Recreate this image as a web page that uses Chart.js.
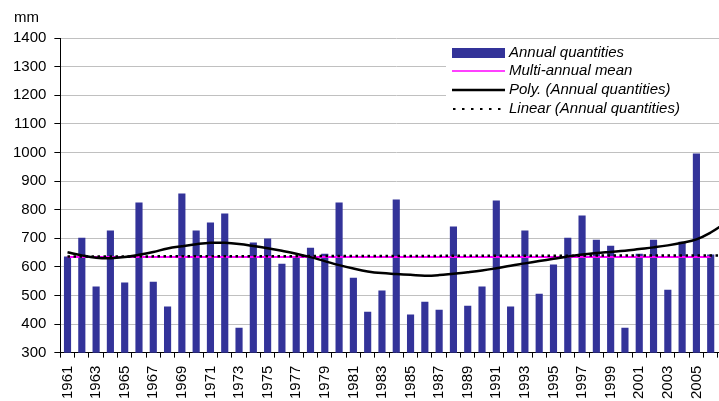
<!DOCTYPE html>
<html>
<head>
<meta charset="utf-8">
<script src="https://cdn.jsdelivr.net/npm/chart.js@4.4.1/dist/chart.umd.min.js"></script>
<style>
  html, body { margin: 0; padding: 0; background: #fff; overflow: hidden; }
  #wrap { position: relative; width: 751px; height: 407px; }
</style>
</head>
<body>
<div id="wrap"><canvas id="chart"></canvas></div>
<script>
// categories (2007 is the cut-off last slot of the axis)
const years = ['1961','1962','1963','1964','1965','1966','1967','1968','1969','1970',
  '1971','1972','1973','1974','1975','1976','1977','1978','1979','1980',
  '1981','1982','1983','1984','1985','1986','1987','1988','1989','1990',
  '1991','1992','1993','1994','1995','1996','1997','1998','1999','2000',
  '2001','2002','2003','2004','2005','2006','2007'];

// annual quantities, mm
const annual = [636, 702, 531, 727, 545, 825, 548, 461, 856, 727,
  755, 786, 387, 685, 699, 611, 636, 667, 646, 825,
  562, 443, 517, 835, 433, 478, 450, 741, 464, 531,
  832, 461, 727, 506, 608, 702, 779, 695, 674, 387,
  646, 695, 520, 688, 996, 643, null];

// multi-annual mean
const mean = [634, 634, 634, 634, 634, 634, 634, 634, 634, 634,
  634, 634, 634, 634, 634, 634, 634, 634, 634, 634,
  634, 634, 634, 634, 634, 634, 634, 634, 634, 634,
  634, 634, 634, 634, 634, 634, 634, 634, 634, 634,
  634, 634, 634, 634, 634, 634, null];

// polynomial trend
const poly = [651, 640, 632, 630, 634, 642, 652, 664, 672, 679,
  684, 684, 680, 673, 665, 656, 646, 634, 620, 606,
  594, 584, 578, 575, 572, 569, 571, 576, 581, 587,
  595, 604, 612, 620, 628, 636, 643, 648, 652, 656,
  662, 668, 675, 684, 696, 720, 752];

// linear trend end points
const linear = [636, null, null, null, null, null, null, null, null, null,
  null, null, null, null, null, null, null, null, null, null,
  null, null, null, null, null, null, null, null, null, null,
  null, null, null, null, null, null, null, null, null, null,
  null, null, null, null, null, null, 640];

const yTicks = { min: 300, max: 1400, step: 100 };

const FONT = "'Liberation Sans', Arial, sans-serif";

// legend box + "mm" unit label
const overlay = {
    id: 'overlay',
    afterDraw(chart) {
        const ctx = chart.ctx;
        ctx.save();
        ctx.fillStyle = '#000';
        ctx.font = '15px ' + FONT;
        ctx.textBaseline = 'middle';
        ctx.textAlign = 'left';
        ctx.fillText('mm', 14, 18);

        ctx.fillStyle = '#fff';
        ctx.fillRect(446, 40, 310, 78);

        const x0 = 452, x1 = 505, tx = 509;
        const rows = [53, 71, 90, 109];
        ctx.fillStyle = '#333399';
        ctx.fillRect(x0, rows[0] - 5, x1 - x0, 10);

        ctx.strokeStyle = '#ff00ff';
        ctx.lineWidth = 1.5;
        ctx.beginPath(); ctx.moveTo(x0, rows[1]); ctx.lineTo(x1, rows[1]); ctx.stroke();

        ctx.strokeStyle = '#000';
        ctx.lineWidth = 2.5;
        ctx.beginPath(); ctx.moveTo(x0, rows[2]); ctx.lineTo(x1, rows[2]); ctx.stroke();

        ctx.lineWidth = 2;
        ctx.setLineDash([2.5, 6.5]);
        ctx.beginPath(); ctx.moveTo(x0 + 1, rows[3]); ctx.lineTo(x1, rows[3]); ctx.stroke();
        ctx.setLineDash([]);

        ctx.fillStyle = '#000';
        ctx.font = 'italic 15px ' + FONT;
        const names = ['Annual quantities', 'Multi-annual mean',
            'Poly. (Annual quantities)', 'Linear (Annual quantities)'];
        names.forEach((n, i) => ctx.fillText(n, tx, rows[i]));
        ctx.restore();
    }
};

new Chart(document.getElementById('chart'), {
    type: 'bar',
    data: {
        labels: years,
        datasets: [
            {
                type: 'bar',
                label: 'Annual quantities',
                data: annual,
                backgroundColor: '#333399',
                barPercentage: 0.5,
                categoryPercentage: 1,
                order: 4
            },
            {
                type: 'line',
                label: 'Multi-annual mean',
                data: mean,
                borderColor: '#ff00ff',
                borderWidth: 2,
                pointRadius: 0,
                order: 3
            },
            {
                type: 'line',
                label: 'Linear (Annual quantities)',
                data: linear,
                borderColor: '#000',
                borderWidth: 2.5,
                borderDash: [2.5, 3.5],
                spanGaps: true,
                pointRadius: 0,
                order: 2
            },
            {
                type: 'line',
                label: 'Poly. (Annual quantities)',
                data: poly,
                borderColor: '#000',
                borderWidth: 2.5,
                tension: 0.4,
                pointRadius: 0,
                order: 1
            }
        ]
    },
    options: {
        responsive: true,
        maintainAspectRatio: false,
        animation: false,
        layout: { padding: { left: 5, top: 38, right: 0, bottom: 0 } },
        plugins: {
            legend: { display: false },
            tooltip: { enabled: false }
        },
        scales: {
            x: {
                offset: true,
                grid: {
                    display: true,
                    offset: true,
                    drawOnChartArea: false,
                    tickLength: 5,
                    tickColor: '#000'
                },
                border: { color: '#000', width: 1 },
                ticks: {
                    autoSkip: false,
                    maxRotation: 90,
                    minRotation: 90,
                    padding: 8,
                    color: '#000',
                    font: { family: FONT, size: 15 },
                    callback(value, index) {
                        return index % 2 === 0 ? years[index] : '';
                    }
                }
            },
            y: {
                min: yTicks.min,
                max: yTicks.max,
                grid: {
                    color: '#c0c0c0',
                    lineWidth: 1,
                    tickLength: 6,
                    tickColor: '#000'
                },
                border: { color: '#000', width: 1 },
                ticks: {
                    stepSize: yTicks.step,
                    padding: 8,
                    color: '#000',
                    font: { family: FONT, size: 15 },
                    callback: (value) => String(value)
                }
            }
        }
    },
    plugins: [overlay]
});
</script>
</body>
</html>
